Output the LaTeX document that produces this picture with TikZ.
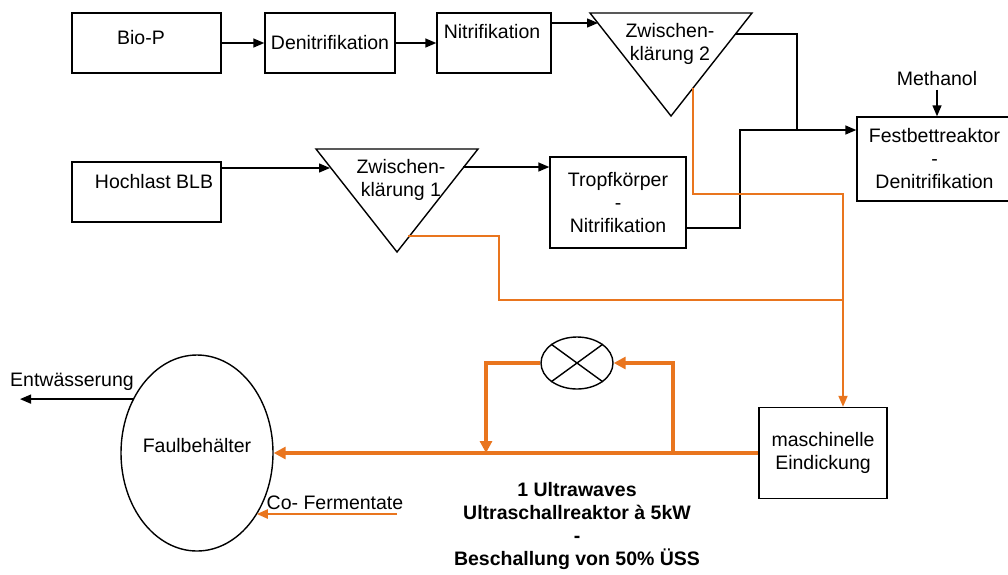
\documentclass[tikz,border=0pt]{standalone}
\usepackage{fontspec}
\setmainfont{Liberation Sans}
\usetikzlibrary{arrows.meta, shapes.geometric}
\definecolor{sludge}{RGB}{233,117,30}
\tikzset{
  box/.style = {rectangle, draw, line width=1.4pt, inner sep=0pt, align=center},
  tank/.style = {ellipse, draw, line width=1.4pt, inner sep=0pt},
  pipe/.style = {line width=1.4pt},
  flow/.style = {pipe, -{Triangle[length=11pt, width=9pt]}},
  sludge/.style = {draw=sludge, line width=1.8pt},
  sludgeflow/.style = {sludge, -{Triangle[length=11pt, width=9pt]}},
  mainsludge/.style = {draw=sludge, line width=3.2pt, -{Triangle[length=12pt, width=12pt]}}
}

\begin{document}
\begin{tikzpicture}[x=1pt, y=-1pt, font=\fontsize{19.5}{23}\selectfont]
\useasboundingbox (0,0) rectangle (1008,574);

% upper line
\node[box, minimum width=149pt, minimum height=60pt, label={[xshift=-5.5pt, yshift=5pt]center:Bio-P}] (biop) at (146.5,43) {};
\node[box, minimum width=130pt, minimum height=60pt] (deni) at (330,43) {Denitrifikation};
\node[box, minimum width=114pt, minimum height=60pt, label={[xshift=-2pt, yshift=11pt]center:Nitrifikation}] (nitri) at (494,43) {};

\draw[pipe] (590,13) -- (752,13) -- (671,116) -- cycle;
\node[align=center] (zk2) at (670,43.5) {Zwischen-\\klärung 2};
\coordinate (zk2in) at (598,23);
\coordinate (zk2out) at (736,34);
\coordinate (zk2sl) at (693,88);

\node[box, minimum width=155pt, minimum height=84pt] (fest) at (934.5,159) {Festbettreaktor\\-\\Denitrifikation};
\node (meth) at (937,79) {Methanol};
\coordinate (merge) at (797,130);
\coordinate (bend) at (740,130);

% lower line
\node[box, minimum width=149pt, minimum height=60pt, label={[xshift=7.5pt, yshift=10pt]center:Hochlast BLB}] (hoch) at (146.5,192) {};

\draw[pipe] (316,149) -- (478,149) -- (397,252) -- cycle;
\node[align=center] (zk1) at (401,179.5) {Zwischen-\\klärung 1};
\coordinate (zk1in) at (330,168);
\coordinate (zk1out) at (463,167);
\coordinate (zk1sl) at (408,236);
\coordinate (zk1drop) at (499,300);

\node[box, minimum width=136pt, minimum height=91pt] (tropf) at (618,202.5) {Tropfkörper\\-\\Nitrifikation};

% sludge line
\node[box, minimum width=128pt, minimum height=91pt] (masch) at (823,453) {maschinelle\\Eindickung};
\coordinate (drop) at (843,194);
\node[tank, minimum width=152pt, minimum height=196pt, label={[yshift=7pt]center:Faulbehälter}] (faul) at (197,453) {};
\node[tank, minimum width=72pt, minimum height=52pt] (mix) at (577,363) {};
\coordinate (j1) at (486,453);
\coordinate (j2) at (673,453);

\node (entw) at (72,382) {Entwässerung};
\coordinate (drain) at (20,400);
\node (cof) at (335,503) {Co- Fermentate};
\coordinate (cofin) at (397,514);

\node[align=center, font=\fontsize{19.5}{22.7}\selectfont\bfseries] (note) at (577,526) {1 Ultrawaves\\Ultraschallreaktor à 5kW\\-\\Beschallung von 50\% ÜSS};

% water
\draw[flow] (biop) -- (deni);
\draw[flow] (deni) -- (nitri);
\draw[flow] (zk2in -| nitri.east) -- (zk2in);
\draw[flow] (zk2out) -| (merge) -- (merge -| fest.west);
\draw[flow] (meth) -- (meth |- fest.north);
\draw[flow] (zk1in -| hoch.east) -- (zk1in);
\draw[flow] (zk1out) -- (zk1out -| tropf.west);
\draw[pipe] ([yshift=-25.5pt]tropf.east) -| (bend) -- (merge);

% sludge
\draw[sludgeflow] (zk2sl) |- (drop) -- (drop |- masch.north);
\draw[sludge] (zk1sl) -| (zk1drop) -- (zk1drop -| drop);
\draw[mainsludge] (masch.west) -- (faul.east);
\draw[mainsludge] (mix.west) -| (j1);
\draw[mainsludge] (j2) |- (mix.east);
\draw[pipe] (mix.north west) -- (mix.south east) (mix.north east) -- (mix.south west);
\draw[flow] (faul.140) -- (faul.140 -| drain);
\draw[sludgeflow, line width=2.2pt] (cofin) -- (cofin -| faul.-46);
\end{tikzpicture}
\end{document}
